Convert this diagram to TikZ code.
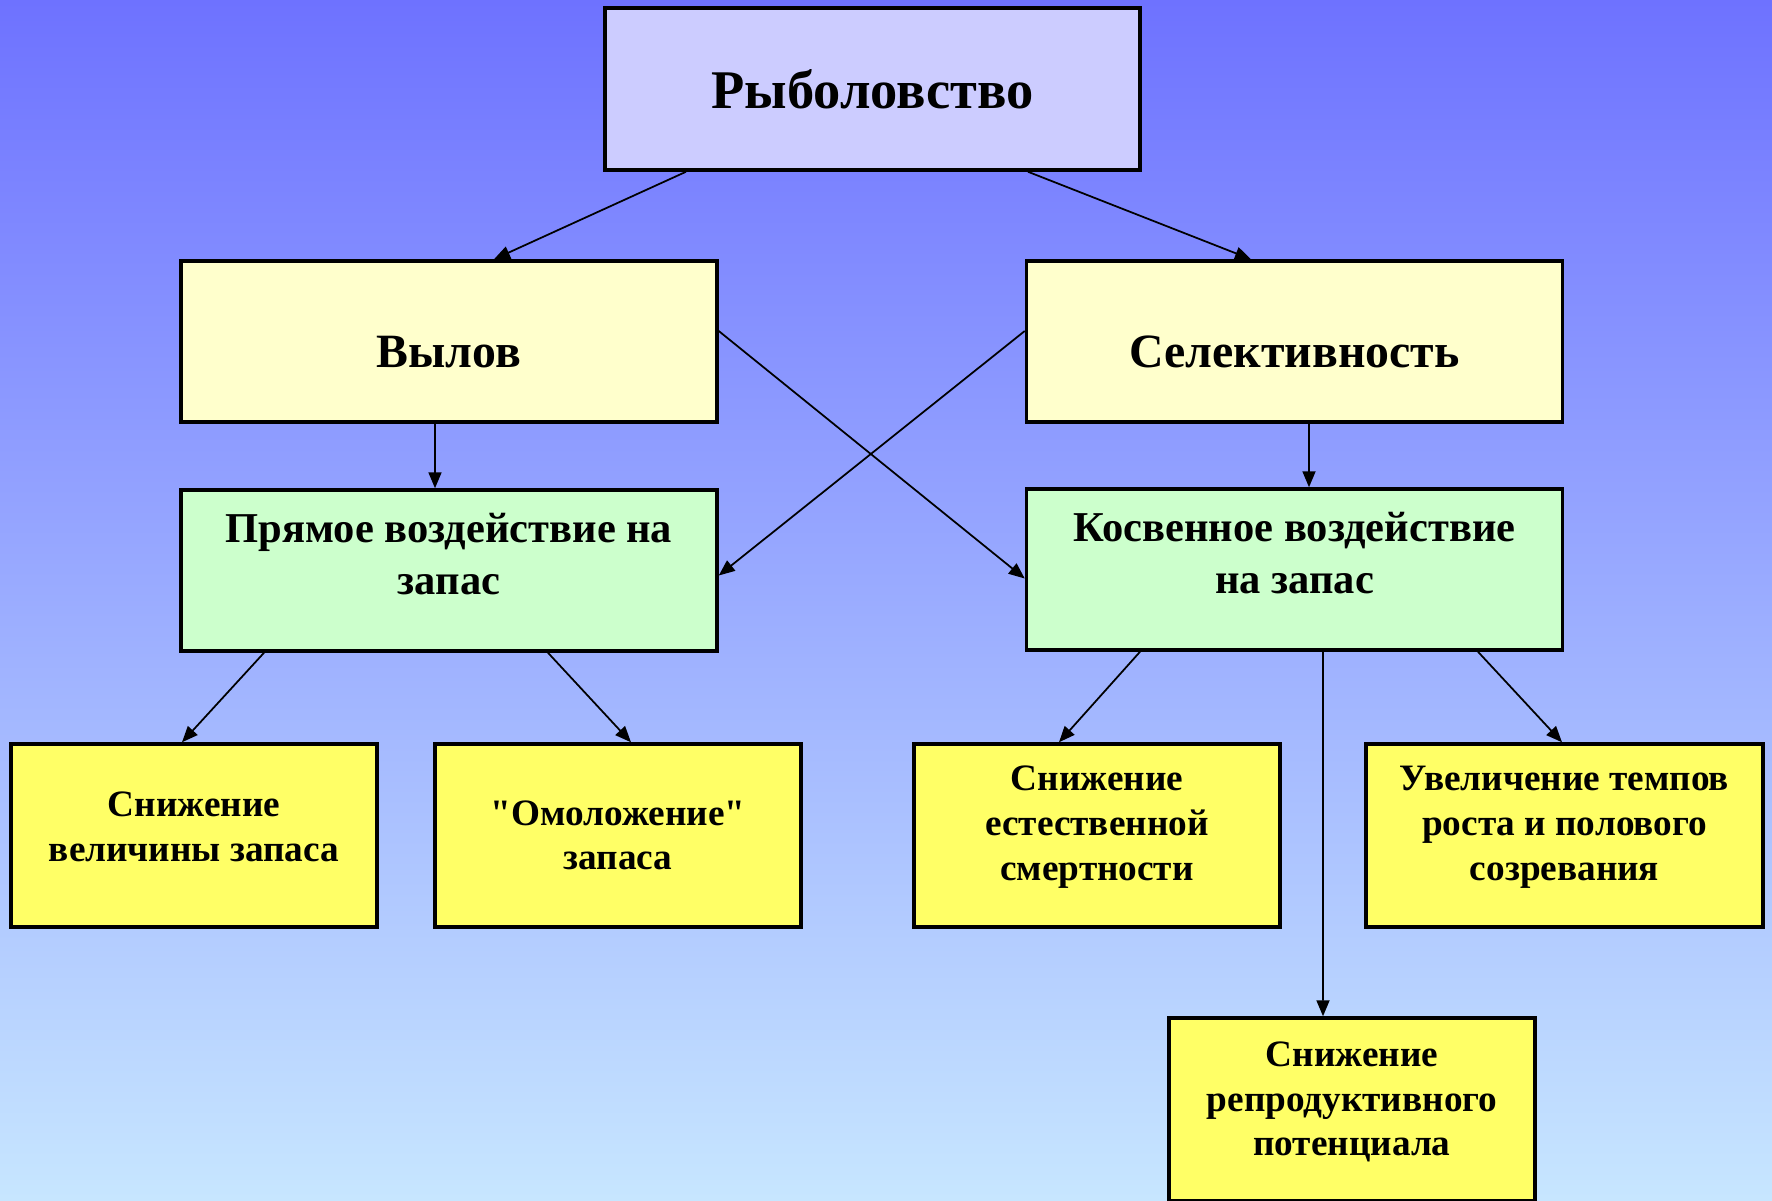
\documentclass[tikz,border=0pt]{standalone}
\usepackage{fontspec}
\setmainfont{Liberation Serif}[Ligatures=TeXOff]
\usepackage{tikz}
\usetikzlibrary{arrows.meta}
\definecolor{fonsinij}{RGB}{110,114,255}
\definecolor{fonsredn}{RGB}{163,186,255}
\definecolor{fongoluboj}{RGB}{199,230,255}
\definecolor{lavanda}{RGB}{204,204,255}
\definecolor{svetlozhelt}{RGB}{255,255,204}
\definecolor{svetlozelen}{RGB}{204,255,204}
\definecolor{zheltyj}{RGB}{255,255,102}
\tikzset{
  lift/.style={
    execute at end node={\rule[-#1]{0pt}{0pt}}
  },
  lift/.default=6pt,
  glavnyj/.style={
    draw=black,
    line width=1pt,
    fill=lavanda,
    align=center,
    minimum width=5.35cm,
    minimum height=1.62cm,
    inner sep=0pt,
    font=\fontsize{15.5}{18}\selectfont\bfseries
  },
  faktor/.style={
    draw=black,
    line width=1pt,
    fill=svetlozhelt,
    align=center,
    minimum width=5.36cm,
    minimum height=1.61cm,
    inner sep=0pt,
    text height=15pt,
    font=\fontsize{13.6}{16}\selectfont\bfseries
  },
  vozdejstvie/.style={
    draw=black,
    line width=1pt,
    fill=svetlozelen,
    align=center,
    minimum width=5.36cm,
    minimum height=1.61cm,
    inner sep=0pt,
    lift=9.5pt,
    font=\fontsize{12.1}{14.8}\selectfont\bfseries
  },
  itog/.style={
    draw=black,
    line width=1pt,
    fill=zheltyj,
    align=center,
    minimum width=3.66cm,
    minimum height=1.83cm,
    inner sep=0pt,
    font=\fontsize{10.6}{12.7}\selectfont\bfseries
  },
  strelka/.style={
    -{Triangle[length=1.6mm,width=1.3mm]},
    line width=0.5pt,
    black
  }
}
\begin{document}
\begin{tikzpicture}
\useasboundingbox (0,0) rectangle (17.72,-12);
\shade[top color=fonsinij,middle color=fonsredn,bottom color=fongoluboj] (0,0) rectangle (17.72,-12);
% verkhnij uroven'
\node[glavnyj] (ryb) at (8.725,-0.89) {Рыболовство};
\node[faktor] (vylov) at (4.49,-3.415) {Вылов};
\node[faktor] (selekt) at (12.945,-3.415) {Селективность};
% vozdejstvie na zapas
\node[vozdejstvie] (pryamoe) at (4.49,-5.705) {Прямое воздействие на\\запас};
\node[vozdejstvie] (kosv) at (12.945,-5.695) {Косвенное воздействие\\на запас};
% posledstviya
\node[itog,lift=5pt] (snizhzap) at (1.94,-8.355) {Снижение\\величины запаса};
\node[itog] (omolozh) at (6.18,-8.355) {"Омоложение"\\запаса};
\node[itog,lift=7pt] (snizhsmert) at (10.97,-8.355) {Снижение\\естественной\\смертности};
\node[itog,lift=7pt,minimum width=3.97cm] (uvelich) at (15.645,-8.355) {Увеличение темпов\\роста и полового\\созревания};
\node[itog,lift] (snizhrepr) at (13.52,-11.095) {Снижение\\репродуктивного\\потенциала};
% strelki
\draw[strelka] ([xshift=-18.65mm]ryb.south) -- ([xshift=4.5mm]vylov.north);
\draw[strelka] ([xshift=15.55mm]ryb.south) -- ([xshift=-4.35mm]selekt.north);
\draw[strelka] ([xshift=-1.4mm]vylov.south) -- ([xshift=-1.4mm]pryamoe.north);
\draw[strelka] ([xshift=1.45mm]selekt.south) -- ([xshift=1.45mm]kosv.north);
\draw[strelka] ([yshift=1.05mm]vylov.east) -- ([yshift=-0.9mm]kosv.west);
\draw[strelka] ([yshift=1.05mm]selekt.west) -- ([yshift=-0.5mm]pryamoe.east);
\draw[strelka] ([xshift=-18.5mm]pryamoe.south) -- ([xshift=-1.2mm]snizhzap.north);
\draw[strelka] ([xshift=9.9mm]pryamoe.south) -- ([xshift=1.3mm]omolozh.north);
\draw[strelka] ([xshift=-15.45mm]kosv.south) -- ([xshift=-3.8mm]snizhsmert.north);
\draw[strelka] ([xshift=2.85mm]kosv.south) -- ([xshift=-2.9mm]snizhrepr.north);
\draw[strelka] ([xshift=18.35mm]kosv.south) -- ([xshift=-0.25mm]uvelich.north);
\end{tikzpicture}
\end{document}
